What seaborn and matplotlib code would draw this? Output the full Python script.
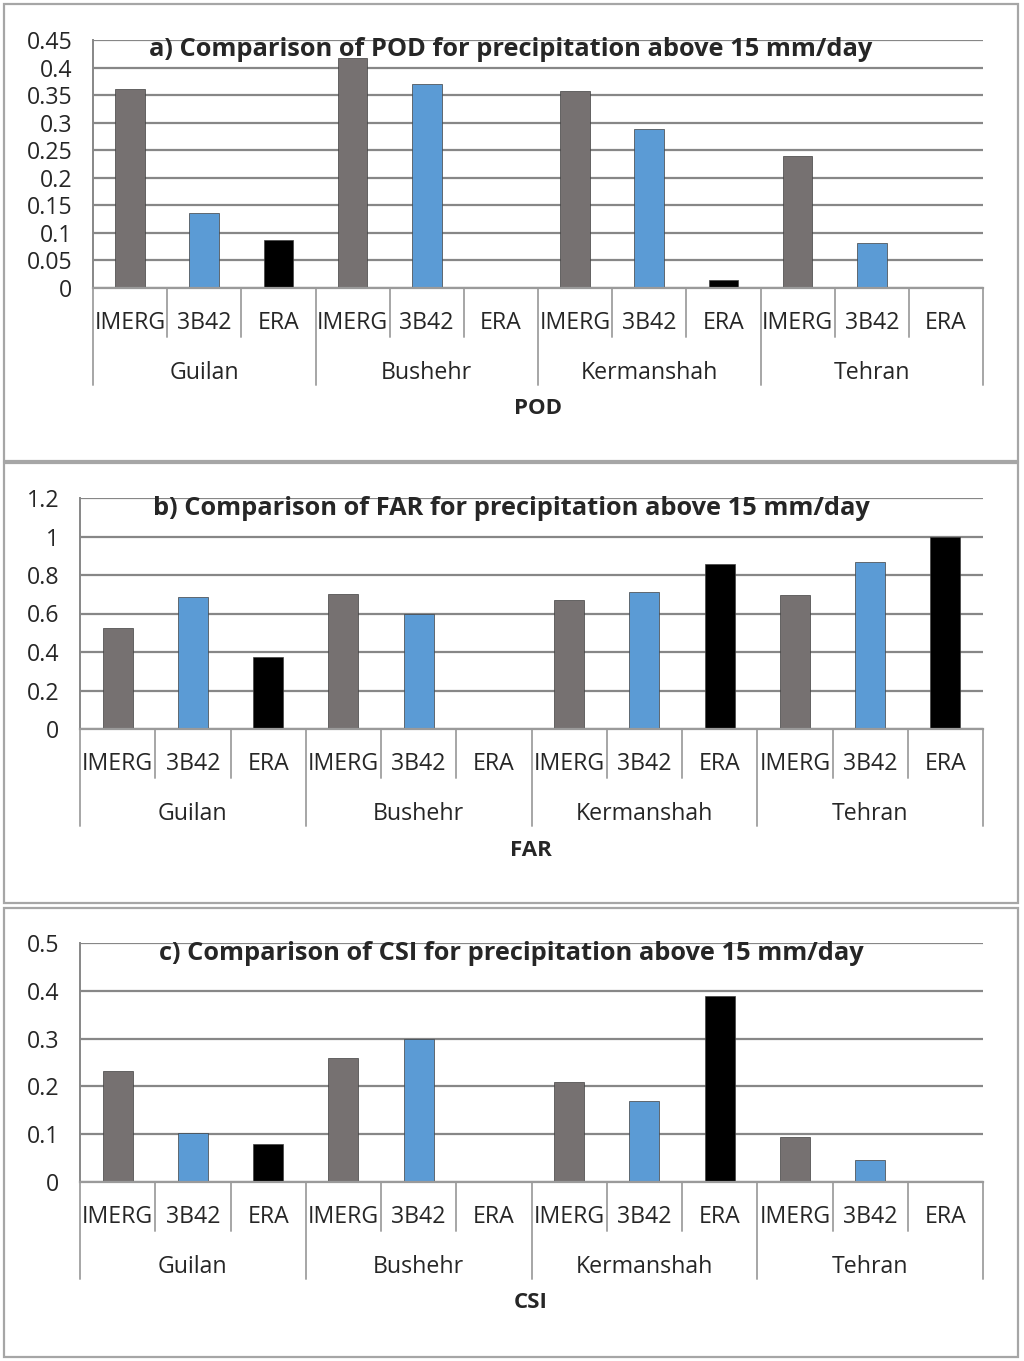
import numpy as np
import pandas as pd
import seaborn as sns
from matplotlib import pyplot as plt
from matplotlib.patches import Rectangle
from matplotlib.transforms import blended_transform_factory, offset_copy


# values
regions = ["Guilan", "Bushehr", "Kermanshah", "Tehran"]
sources = ["IMERG", "3B42", "ERA"]

pod_imerg = [0.361, 0.417, 0.357, 0.240]
pod_3b42 = [0.136, 0.370, 0.289, 0.081]
pod_era = [0.087, 0.0, 0.015, 0.0]

far_imerg = [0.525, 0.702, 0.670, 0.698]
far_3b42 = [0.688, 0.598, 0.714, 0.865]
far_era = [0.375, 0.0, 0.855, 1.0]

csi_imerg = [0.232, 0.259, 0.209, 0.094]
csi_3b42 = [0.102, 0.300, 0.169, 0.046]
csi_era = [0.079, 0.0, 0.389, 0.0]

pod_ticks = [0, 0.05, 0.1, 0.15, 0.2, 0.25, 0.3, 0.35, 0.4, 0.45]
far_ticks = [0, 0.2, 0.4, 0.6, 0.8, 1, 1.2]
csi_ticks = [0, 0.1, 0.2, 0.3, 0.4, 0.5]

pod_ticklabels = ["0", "0.05", "0.1", "0.15", "0.2", "0.25", "0.3", "0.35", "0.4", "0.45"]
far_ticklabels = ["0", "0.2", "0.4", "0.6", "0.8", "1", "1.2"]
csi_ticklabels = ["0", "0.1", "0.2", "0.3", "0.4", "0.5"]

colors = {"IMERG": "#767171", "3B42": "#5B9BD5", "ERA": "#000000"}

W, H = 1024, 1361
FONT = "Open Sans"
GRID = "#878787"
FS = 16.7


def long_table(imerg, b42, era):
    rows = []
    for i, reg in enumerate(regions):
        rows.append((reg, "IMERG", imerg[i]))
        rows.append((reg, "3B42", b42[i]))
        rows.append((reg, "ERA", era[i]))
    return pd.DataFrame(rows, columns=["region", "source", "value"])


def panel(fig, box, rect, data, ticks, ticklabels, title, title_y, name, name_x):
    # box: panel frame in pixels (x0, y0, x1, y1), rect: axes in pixels
    x0, y0, x1, y1 = box
    fig.add_artist(Rectangle((x0 / W, 1 - y1 / H), (x1 - x0) / W, (y1 - y0) / H,
                             transform=fig.transFigure, fill=False,
                             edgecolor="#a6a6a6", linewidth=1.6))
    l, t, r, b = rect
    ax = fig.add_axes([l / W, 1 - b / H, (r - l) / W, (b - t) / H])
    sns.barplot(data=data, x="region", y="value", hue="source",
                hue_order=sources, order=regions, palette=colors, saturation=1,
                width=1.0, gap=0.6, linewidth=0.5, edgecolor="#404040",
                legend=False, ax=ax, errorbar=None)
    ax.set_xlim(-0.5, 3.5)
    ax.set_ylim(ticks[0], ticks[-1])
    ax.set_yticks(ticks)
    ax.set_yticklabels(ticklabels, fontsize=FS, family=FONT)
    ax.tick_params(axis="y", length=6, width=1.4, color=GRID, pad=9)
    ax.set_xticks([])
    ax.set_xlabel("")
    ax.set_ylabel("")
    ax.set_axisbelow(True)
    ax.grid(axis="y", color=GRID, linewidth=1.6)
    ax.grid(axis="x", visible=False)
    for s in ["top", "right"]:
        ax.spines[s].set_visible(False)
    ax.spines["left"].set_color(GRID)
    ax.spines["left"].set_linewidth(1.4)
    ax.spines["bottom"].set_color("#9a9a9a")
    ax.spines["bottom"].set_linewidth(1.6)

    # multi-level category axis drawn under the plot
    trans = blended_transform_factory(ax.transData, ax.transAxes)
    for i, reg in enumerate(regions):
        for k, src in enumerate(sources):
            xc = i - 1 / 3 + k / 3
            ax.text(xc, 0, src, transform=offset_copy(trans, fig=fig, y=-25, units="points"),
                    ha="center", va="center", fontsize=FS, family=FONT)
            if k > 0:
                xs = i - 0.5 + k / 3
                ax.plot([xs, xs], [0, -49 / (b - t)], transform=trans, color="#a6a6a6",
                        linewidth=1.4, clip_on=False)
        ax.text(i, 0, reg, transform=offset_copy(trans, fig=fig, y=-61, units="points"),
                ha="center", va="center", fontsize=FS, family=FONT)
    for j in range(len(regions) + 1):
        xs = j - 0.5
        ax.plot([xs, xs], [0, -97 / (b - t)], transform=trans, color="#a6a6a6",
                linewidth=1.4, clip_on=False)

    fig.text(511 / W, 1 - (title_y + 1) / H, title, ha="center", va="center",
             fontsize=18.3, fontweight="bold", family=FONT)
    fig.text(name_x / W, 1 - (b + 121) / H, name, ha="center", va="center",
             fontsize=16, fontweight="bold", family=FONT)
    return ax


sns.set_style("white")
plt.rcParams["font.family"] = [FONT, "DejaVu Sans"]

fig = plt.figure(figsize=(W / 100, H / 100), dpi=100)
fig.patch.set_facecolor("white")

panel(fig, (4, 4, 1018, 461), (93, 40, 983, 288),
      long_table(pod_imerg, pod_3b42, pod_era), pod_ticks, pod_ticklabels,
      "a) Comparison of POD for precipitation above 15 mm/day", 48, "POD", 538)
panel(fig, (4, 463, 1018, 903), (80, 498, 983, 729),
      long_table(far_imerg, far_3b42, far_era), far_ticks, far_ticklabels,
      "b) Comparison of FAR for precipitation above 15 mm/day", 508, "FAR", 531)
panel(fig, (4, 908, 1018, 1357), (80, 943, 983, 1182),
      long_table(csi_imerg, csi_3b42, csi_era), csi_ticks, csi_ticklabels,
      "c) Comparison of CSI for precipitation above 15 mm/day", 952, "CSI", 531)

fig.savefig("out.png", dpi=100)
